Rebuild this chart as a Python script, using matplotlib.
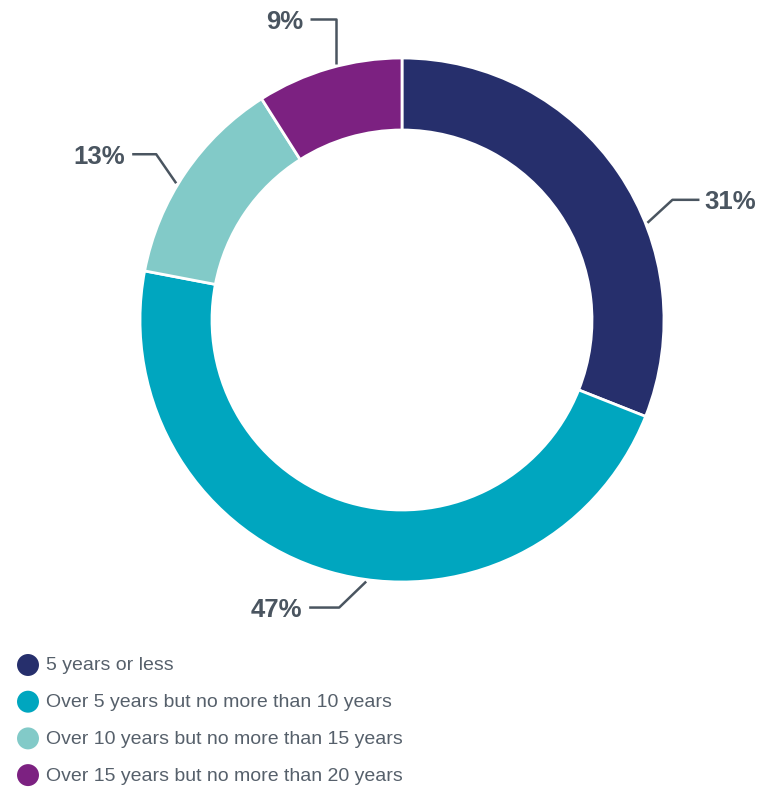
import numpy as np
import matplotlib; matplotlib.use("Agg")
import matplotlib.pyplot as plt

# data
categories = ["5 years or less",
              "Over 5 years but no more than 10 years",
              "Over 10 years but no more than 15 years",
              "Over 15 years but no more than 20 years"]
shares = [31, 47, 13, 9]
labels = ["31%", "47%", "13%", "9%"]
colors = ["#262F6C", "#00A6BF", "#82CAC8", "#7C2181"]

# layout in pixel coords (y down)
W, H = 757, 787
CX, CY, R, RING = 402, 320, 262, 72
LINE = "#4A5560"
# per label: angle shift (deg), elbow offset (dx, dy), horizontal run
ang_shift = [12.6, -8.4, -3.0, 1.7]
elbow = [(25, -23), (-27, 26), (-20, -29), (0, -45)]
run = [27, -30, -24, -26]

fig = plt.figure(figsize=(W / 100, H / 100), dpi=100)
ax = fig.add_axes([0, 0, 1, 1])

wedges, _ = ax.pie(shares, colors=colors, startangle=-90, counterclock=True,
                   center=(CX, CY), radius=R,
                   wedgeprops=dict(width=RING, edgecolor="white", linewidth=2))
ax.set_xlim(0, W); ax.set_ylim(H, 0)
ax.set_aspect("equal")
ax.axis("off")

# leader lines + labels
for w, lab, sh, (dx, dy), rn in zip(wedges, labels, ang_shift, elbow, run):
    th = np.deg2rad((w.theta1 + w.theta2) / 2 + sh)
    x0, y0 = CX + (R + 2) * np.cos(th), CY + (R + 2) * np.sin(th)
    x1, y1 = x0 + dx, y0 + dy
    x2 = x1 + rn
    ax.plot([x0, x1, x2], [y0, y1, y1], color=LINE, lw=1.8, solid_capstyle="butt")
    ha = "left" if rn > 0 else "right"
    ax.text(x2 + (5 if rn > 0 else -7), y1, lab, ha=ha, va="center_baseline",
            fontsize=18.5, fontweight="bold", color=LINE, family="Liberation Sans")

# legend
for i, (cat, c) in enumerate(zip(categories, colors)):
    y = 665 + i * 36.7
    ax.scatter([28], [y], s=250, color=c, edgecolors="none")
    ax.text(46, y + 1, cat, ha="left", va="center", fontsize=14,
            color="#56606B", family="Liberation Sans")

plt.savefig("out.png", dpi=100)
plt.close()
